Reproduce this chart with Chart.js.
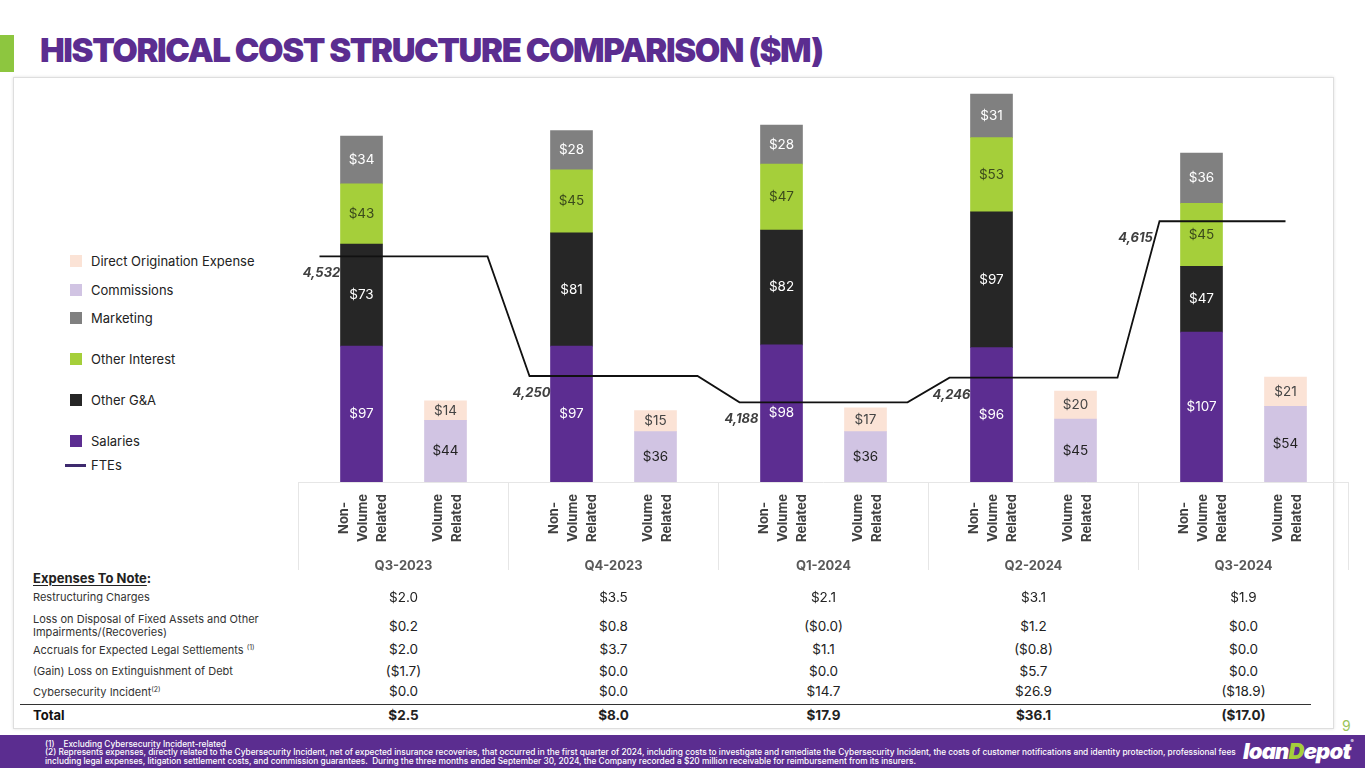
<!DOCTYPE html>
<html lang="en">
<head>
    <meta charset="UTF-8">
    <title>Historical Cost Structure Comparison ($M)</title>
    <script src="https://cdn.jsdelivr.net/npm/chart.js"></script>
    <style>
        body { margin: 0; width: 1365px; height: 768px; overflow: hidden; background: #fff; position: relative; font-family: Inter, "Open Sans", sans-serif; color: #222; }
        .accent { position: absolute; left: 0; top: 35px; width: 14px; height: 37px; background: #8DC63F; }
        h1 { position: absolute; left: 40px; top: 30px; margin: 0; font-size: 33px; line-height: 40px; font-weight: 900; color: #5B2D90; white-space: nowrap; letter-spacing: -1.4px; }
        .panel { position: absolute; left: 13px; top: 77px; width: 1319px; height: 650px; border: 1px solid #dedede; box-shadow: 0 0 3px rgba(0,0,0,0.12); background: #fff; }
        #chartWrap { position: absolute; left: 290px; top: 75px; width: 1075px; height: 525px; }
        .legend-item { position: absolute; left: 70px; height: 16px; display: flex; align-items: center; font-size: 13px; color: #222; white-space: nowrap; }
        .legend-item .sw { width: 12px; height: 12px; margin-right: 9px; }
        .legend-item .ln { width: 21px; height: 3px; margin-left: -5px; margin-right: 5px; }
        .note { position: absolute; white-space: nowrap; }
        .note-label { left: 33px; font-size: 11px; color: #333; line-height: 13px; transform: translateY(-50%); }
        .note-val { width: 210px; text-align: center; font-size: 13.5px; color: #222; transform: translateY(-50%); }
        .note-head { left: 33px; top: 570px; font-size: 13px; font-weight: 700; }
        .note-head u { text-underline-offset: 2px; }
        .rule { position: absolute; left: 20px; top: 704px; width: 1291px; height: 1px; background: #333; }
        .page { position: absolute; left: 1342px; top: 717px; font-size: 14px; color: #9BC45A; }
        .band { position: absolute; left: 0; top: 735px; width: 1365px; height: 33px; background: #5B2D90; color: #fff; }
        .band .fn { position: absolute; left: 45px; font-size: 8.3px; line-height: 8px; white-space: nowrap; font-weight: 500; }
        .logo { position: absolute; left: 1243px; top: 3px; font-size: 22px; font-weight: 900; font-style: italic; letter-spacing: -0.8px; }
        .logo span { color: #A5CF3A; }
        .logo sup { font-size: 5px; vertical-align: top; font-style: normal; }
    </style>
</head>
<body>
    <div class="accent"></div>
    <h1>HISTORICAL COST STRUCTURE COMPARISON ($M)</h1>
    <div class="panel"></div>
    <div id="legend"></div>
    <div id="chartWrap"><canvas id="costChart"></canvas></div>
    <div id="notes"></div>
    <div class="rule"></div>
    <div class="page">9</div>
    <div class="band">
        <div class="fn" style="top:5px">(1)&nbsp;&nbsp;&nbsp;&nbsp;Excluding Cybersecurity Incident-related</div>
        <div class="fn" style="top:13px">(2) Represents expenses, directly related to the Cybersecurity Incident, net of expected insurance recoveries, that occurred in the first quarter of 2024, including costs to investigate and remediate the Cybersecurity Incident, the costs of customer notifications and identity protection, professional fees</div>
        <div class="fn" style="top:22px">including legal expenses, litigation settlement costs, and commission guarantees.&nbsp; During the three months ended September 30, 2024, the Company recorded a $20 million receivable for reimbursement from its insurers.</div>
        <div class="logo">loan<span>D</span>epot<sup>®</sup></div>
    </div>

    <script>
        // Dữ liệu biểu đồ ($M)
        const quarters = ['Q3-2023', 'Q4-2023', 'Q1-2024', 'Q2-2024', 'Q3-2024'];
        const salaries = [97, 97, 98, 96, 107];
        const otherGA = [73, 81, 82, 97, 47];
        const otherInterest = [43, 45, 47, 53, 45];
        const marketing = [34, 28, 28, 31, 36];
        const commissions = [44, 36, 36, 45, 54];
        const directOrigination = [14, 15, 17, 20, 21];
        const ftes = [4532, 4250, 4188, 4246, 4615];
        const groupLabels = [['Non-', 'Volume', 'Related'], ['Volume', 'Related']];

        // Expenses To Note ($M)
        const noteRows = ['Restructuring Charges', 'Loss on Disposal of Fixed Assets and Other<br>Impairments/(Recoveries)', 'Accruals for Expected Legal Settlements <sup style="font-size:7px">(1)</sup>', '(Gain) Loss on Extinguishment of Debt', 'Cybersecurity Incident<sup style="font-size:7px">(2)</sup>'];
        const restructuring = [2.0, 3.5, 2.1, 3.1, 1.9];
        const lossOnDisposal = [0.2, 0.8, -0.0, 1.2, 0.0];
        const legalAccruals = [2.0, 3.7, 1.1, -0.8, 0.0];
        const debtExtinguishment = [-1.7, 0.0, 0.0, 5.7, 0.0];
        const cyberIncident = [0.0, 0.0, 14.7, 26.9, -18.9];
        const totals = [2.5, 8.0, 17.9, 36.1, -17.0];

        const colors = {
            salaries: '#5C2D91', otherGA: '#262626', otherInterest: '#A5CF3A',
            marketing: '#808080', commissions: '#D1C4E3', directOrigination: '#FBE3D6'
        };

        // Legend (HTML)
        const legendItems = [
            { name: 'Direct Origination Expense', color: colors.directOrigination, y: 261 },
            { name: 'Commissions', color: colors.commissions, y: 290 },
            { name: 'Marketing', color: colors.marketing, y: 318 },
            { name: 'Other Interest', color: colors.otherInterest, y: 359 },
            { name: 'Other G&A', color: colors.otherGA, y: 400 },
            { name: 'Salaries', color: colors.salaries, y: 441 },
            { name: 'FTEs', color: '#3E2A6E', y: 465, line: true }
        ];
        document.getElementById('legend').innerHTML = legendItems.map(it =>
            `<div class="legend-item" style="top:${it.y - 8}px"><div class="${it.line ? 'ln' : 'sw'}" style="background:${it.color}"></div>${it.name}</div>`
        ).join('');

        // Bảng chi phí
        const fmt = v => (v < 0 || Object.is(v, -0)) ? `($${Math.abs(v).toFixed(1)})` : `$${v.toFixed(1)}`;
        const rowY = [597, 626, 649, 671, 691];
        const rowData = [restructuring, lossOnDisposal, legalAccruals, debtExtinguishment, cyberIncident];
        let html = '<div class="note note-head"><u>Expenses To Note</u>:</div>';
        noteRows.forEach((label, r) => {
            html += `<div class="note note-label" style="top:${rowY[r]}px">${label}</div>`;
            rowData[r].forEach((v, i) => {
                html += `<div class="note note-val" style="top:${rowY[r]}px;left:${298.5 + 210 * i}px">${fmt(v)}</div>`;
            });
        });
        html += `<div class="note note-label" style="top:715px;font-size:13px;font-weight:700;color:#111">Total</div>`;
        totals.forEach((v, i) => {
            html += `<div class="note note-val" style="top:715px;left:${298.5 + 210 * i}px;font-weight:700">${fmt(v)}</div>`;
        });
        document.getElementById('notes').innerHTML = html;

        // Non-Volume bars sit left of the quarter centre, Volume bars right
        const nv = arr => arr.map((v, i) => ({ x: i - 0.2, y: v }));
        const vol = arr => arr.map((v, i) => ({ x: i + 0.2, y: v }));

        // FTE line: one flat segment per quarter, diagonal between
        const ftePoints = [];
        ftes.forEach((v, i) => {
            ftePoints.push({ x: i - 0.4, y: v });
            ftePoints.push({ x: i === ftes.length - 1 ? i + 0.2 : i + 0.4, y: v });
        });

        const bar = (label, data, color, textColor) => ({
            type: 'bar', label, data, backgroundColor: color, textColor,
            xAxisID: 'xb', yAxisID: 'y', grouped: false, barThickness: 42, order: 1
        });

        // Nhãn giá trị trong cột + nhãn FTE
        const valueLabels = {
            id: 'valueLabels',
            afterDatasetsDraw(chart) {
                const ctx = chart.ctx;
                ctx.save();
                ctx.textAlign = 'center';
                ctx.textBaseline = 'middle';
                chart.data.datasets.forEach((ds, i) => {
                    const meta = chart.getDatasetMeta(i);
                    if (ds.type === 'bar') {
                        ctx.font = '13.5px Inter';
                        ctx.fillStyle = ds.textColor;
                        meta.data.forEach((el, j) => ctx.fillText('$' + ds.data[j].y, el.x, (el.y + el.base) / 2));
                    } else {
                        ctx.font = 'italic bold 13px Inter';
                        ctx.fillStyle = '#404040';
                        meta.data.forEach((el, j) => {
                            if (j % 2) return;
                            const q = j / 2;
                            const steepRise = q > 0 && ftes[q] - ftes[q - 1] > 200;
                            ctx.fillText(ftes[q].toLocaleString('en-US'), el.x + (steepRise ? -24 : 2), el.y + 17);
                        });
                    }
                });
                ctx.restore();
            }
        };

        // Nhãn phụ xoay dọc dưới mỗi cột
        const groupLabelPlugin = {
            id: 'groupLabels',
            afterDraw(chart) {
                const ctx = chart.ctx;
                ctx.save();
                ctx.font = 'bold 13px Inter';
                ctx.fillStyle = '#404040';
                ctx.textAlign = 'center';
                ctx.textBaseline = 'middle';
                [1, 5].forEach((dsIndex, g) => {
                    const lines = groupLabels[g];
                    chart.getDatasetMeta(dsIndex).data.forEach(el => {
                        ctx.save();
                        ctx.translate(el.x + 2, chart.chartArea.bottom + 36);
                        ctx.rotate(-Math.PI / 2);
                        lines.forEach((t, k) => ctx.fillText(t, 0, (k - (lines.length - 1) / 2) * 19));
                        ctx.restore();
                    });
                });
                ctx.restore();
            }
        };

        new Chart(document.getElementById('costChart'), {
            data: {
                labels: quarters,
                datasets: [
                    {
                        type: 'line', label: 'FTEs', data: ftePoints, xAxisID: 'xb', yAxisID: 'yf',
                        borderColor: '#111', borderWidth: 1.8, pointRadius: 0, tension: 0, order: 0
                    },
                    bar('Salaries', nv(salaries), colors.salaries, '#fff'),
                    bar('Other G&A', nv(otherGA), colors.otherGA, '#fff'),
                    bar('Other Interest', nv(otherInterest), colors.otherInterest, '#3B4A1C'),
                    bar('Marketing', nv(marketing), colors.marketing, '#fff'),
                    bar('Commissions', vol(commissions), colors.commissions, '#222'),
                    bar('Direct Origination Expense', vol(directOrigination), colors.directOrigination, '#444')
                ]
            },
            options: {
                responsive: true,
                maintainAspectRatio: false,
                animation: false,
                layout: { padding: { left: 8.5, right: 16.5, top: 8, bottom: 18 } },
                plugins: { legend: { display: false }, tooltip: { enabled: false } },
                scales: {
                    x: {
                        type: 'category', offset: true,
                        grid: {
                            offset: true, drawOnChartArea: false, drawTicks: true, tickLength: 88,
                            color: c => c.index === quarters.length ? 'rgba(0,0,0,0)' : '#e6e6e6'
                        },
                        border: { color: '#e6e6e6' },
                        ticks: { padding: -12, color: '#595959', font: { family: 'Inter', weight: 'bold', size: 13 } },
                        afterFit: s => { s.height = 100; }
                    },
                    xb: { type: 'linear', display: false, offset: false, min: -0.5, max: 4.5 },
                    y: { stacked: true, display: false, min: 0, max: 285 },
                    yf: { type: 'linear', display: false, min: 4000, max: 4941 }
                }
            },
            plugins: [valueLabels, groupLabelPlugin]
        });
    </script>
</body>
</html>
